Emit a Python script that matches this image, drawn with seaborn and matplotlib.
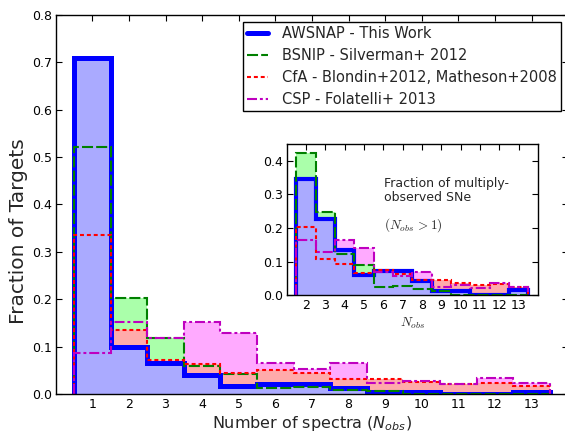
import numpy as np
import pandas as pd
import matplotlib
matplotlib.use("Agg")
import matplotlib.pyplot as plt
from matplotlib.lines import Line2D
import seaborn as sns

# Fraction of targets per number of spectra (N_obs = 1..13)
n_obs = list(range(1, 14))
awsnap = [0.708, 0.100, 0.066, 0.040, 0.0175, 0.022, 0.022, 0.013, 0.004, 0.004, 0.0, 0.0, 0.005]
bsnip = [0.520, 0.203, 0.119, 0.058, 0.043, 0.012, 0.014, 0.008, 0.007, 0.0, 0.0, 0.0, 0.0]
cfa = [0.335, 0.135, 0.071, 0.063, 0.045, 0.051, 0.044, 0.032, 0.031, 0.025, 0.021, 0.024, 0.017]
csp = [0.087, 0.151, 0.119, 0.151, 0.129, 0.065, 0.053, 0.065, 0.0225, 0.027, 0.021, 0.033, 0.023]

# Fraction of multiply-observed SNe (N_obs = 2..13)
n_obs_multi = list(range(2, 14))
awsnap_multi = [0.345, 0.226, 0.135, 0.060, 0.073, 0.073, 0.043, 0.014, 0.014, 0.0, 0.0, 0.016]
bsnip_multi = [0.424, 0.249, 0.123, 0.090, 0.026, 0.029, 0.018, 0.014, 0.0, 0.0, 0.0, 0.0]
cfa_multi = [0.204, 0.107, 0.094, 0.067, 0.075, 0.064, 0.046, 0.047, 0.0375, 0.0305, 0.034, 0.026]
csp_multi = [0.166, 0.130, 0.165, 0.141, 0.070, 0.058, 0.070, 0.025, 0.030, 0.021, 0.036, 0.024]

labels = ["AWSNAP - This Work", "BSNIP - Silverman+ 2012",
          "CfA - Blondin+2012, Matheson+2008", "CSP - Folatelli+ 2013"]

sns.set_style("ticks")
plt.rcParams["font.family"] = ["DejaVu Sans"]

# styling per survey: (line colour, fill colour, line width, dash pattern)
styles = {
    "AWSNAP": ("#0000ff", "#aaaaff", 3.6, None),
    "BSNIP": ("#008000", "#aaffaa", 1.5, (5.3, 1.5)),
    "CfA": ("#ff0000", "#ffaaaa", 1.5, (1.9, 1.4)),
    "CSP": ("#bf00bf", "#ffaaff", 1.5, (4.8, 1.4, 1.4, 1.4)),
}
fill_order = ["CSP", "BSNIP", "CfA", "AWSNAP"]
line_order = ["AWSNAP", "BSNIP", "CfA", "CSP"]


def draw_hists(ax, x, series, main_lw):
    x = np.asarray(x)
    edges = np.append(x - 0.5, x[-1] + 0.5)
    for i, key in enumerate(fill_order):
        sns.histplot(x=x, weights=series[key], discrete=True, element="step",
                     fill=True, color=styles[key][1], alpha=1, linewidth=0,
                     edgecolor="none", ax=ax, zorder=1 + 0.1 * i)
    for i, key in enumerate(line_order):
        col, _, lw, dashes = styles[key]
        if key == "AWSNAP":
            lw = main_lw
        ls = "-" if dashes is None else (0, dashes)
        ax.stairs(series[key], edges, baseline=0, fill=False, color=col,
                  linewidth=lw, linestyle=ls, zorder=2 + 0.05 * i)


def style_axes(ax, fs):
    ax.tick_params(direction="in", top=True, right=True, length=4, width=0.8,
                   labelsize=fs, colors="black", pad=3)
    ax.tick_params(axis="y", pad=2.5)
    for s in ax.spines.values():
        s.set_color("black")
        s.set_linewidth(1.0)
    ax.set_facecolor("white")


fig = plt.figure(figsize=(5.65, 4.32), dpi=100)
ax = fig.add_axes([0.0986, 0.088, 0.9069, 0.878])

draw_hists(ax, n_obs, {"AWSNAP": awsnap, "BSNIP": bsnip, "CfA": cfa, "CSP": csp}, 3.6)
ax.set_xlim(0, 14)
ax.set_ylim(0, 0.8)
ax.set_xticks(n_obs)
ax.set_yticks(np.arange(0, 0.81, 0.1))
style_axes(ax, 9)
ax.set_xlabel(r"Number of spectra ($N_{obs}$)", fontsize=11.5,
              math_fontfamily="dejavusans", labelpad=2)
ax.set_ylabel("Fraction of Targets", fontsize=14.5)
ax.yaxis.set_label_coords(-0.055, 0.43)

handles = []
for key in line_order:
    col, _, lw, dashes = styles[key]
    ls = "-" if dashes is None else (0, dashes)
    handles.append(Line2D([], [], color=col, lw=lw, linestyle=ls))
leg = ax.legend(handles, labels, loc="upper right", fontsize=10.5,
                bbox_to_anchor=(561 / 565, (432 - 22.3) / 432),
                bbox_transform=fig.transFigure, borderaxespad=0,
                frameon=True, fancybox=False, handlelength=1.5,
                handletextpad=0.95, labelspacing=0.48, borderpad=0.26)
leg.get_frame().set_edgecolor("black")
leg.get_frame().set_linewidth(1.0)
leg.get_frame().set_alpha(1)

# inset: distribution of SNe with more than one spectrum
axi = fig.add_axes([0.5071, 0.3164, 0.4451, 0.3502])
draw_hists(axi, n_obs_multi, {"AWSNAP": awsnap_multi, "BSNIP": bsnip_multi,
                              "CfA": cfa_multi, "CSP": csp_multi}, 3.0)
axi.set_xlim(1, 14)
axi.set_ylim(0, 0.45)
axi.set_xticks(n_obs_multi)
axi.set_yticks(np.arange(0, 0.41, 0.1))
style_axes(axi, 9)
axi.set_xlabel(r"$N_{obs}$", fontsize=9.6, math_fontfamily="cm", labelpad=2)
axi.set_ylabel("")
axi.text(0.388, 0.784, "Fraction of multiply-\nobserved SNe", transform=axi.transAxes,
         fontsize=9, va="top", ha="left", linespacing=1.1)
axi.text(0.388, 0.465, r"$(N_{obs}\,>1)$", transform=axi.transAxes,
         fontsize=9.5, va="center", ha="left", math_fontfamily="cm")

fig.savefig("out.png", dpi=100, facecolor="white")
